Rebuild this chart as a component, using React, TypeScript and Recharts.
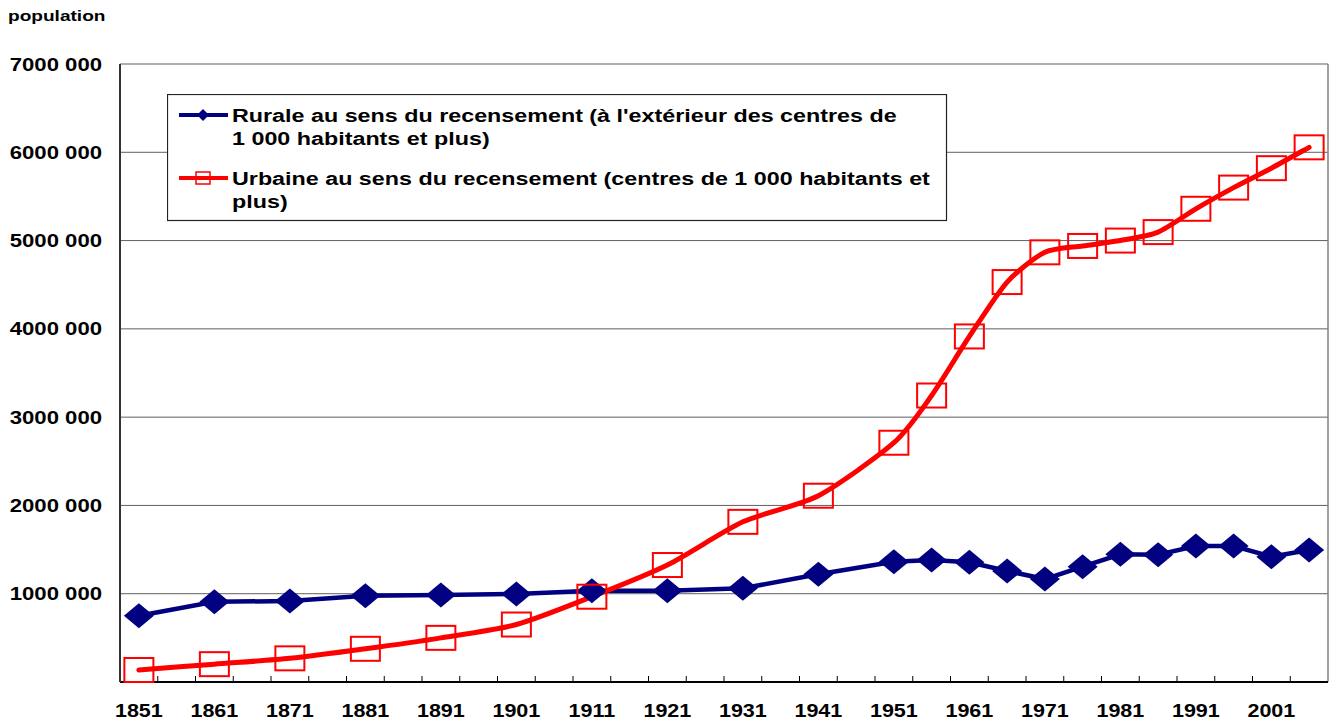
import React from 'react';
import { LineChart, Line, XAxis, YAxis, CartesianGrid, Legend, ReferenceLine } from 'recharts';

// census years (1951 onward every 5 years)
const YEARS = [1851, 1861, 1871, 1881, 1891, 1901, 1911, 1921, 1931, 1941, 1951, 1956, 1961, 1966, 1971, 1976, 1981, 1986, 1991, 1996, 2001, 2006];
const RURAL = [751000, 909000, 917000, 977000, 985000, 997000, 1034000, 1034000, 1061000, 1220000, 1362000, 1382000, 1356000, 1257000, 1166000, 1306000, 1446000, 1442000, 1540000, 1540000, 1419000, 1495000];
const URBAN = [136000, 202000, 268000, 376000, 500000, 651000, 966000, 1325000, 1814000, 2110000, 2710000, 3245000, 3914000, 4530000, 4867000, 4939000, 5000000, 5096000, 5360000, 5600000, 5820000, 6056000];
const LABEL_YEARS = [1851, 1861, 1871, 1881, 1891, 1901, 1911, 1921, 1931, 1941, 1951, 1961, 1971, 1981, 1991, 2001];
const Y_TICKS = [1000000, 2000000, 3000000, 4000000, 5000000, 6000000, 7000000];

const RURAL_NAME = ["Rurale au sens du recensement (à l'extérieur des centres de", '1 000 habitants et plus)'];
const URBAN_NAME = ['Urbaine au sens du recensement (centres de 1 000 habitants et', 'plus)'];

const NAVY = '#000080';
const RED = '#FF0000';
const FONT = '"Liberation Sans", Arial, sans-serif';
const STRETCH = 1.23;

const X_MIN = 1848.5;
const X_MAX = 2008.5;

const data = YEARS.map((year, i) => ({ year, rural: RURAL[i], urban: URBAN[i] }));

// category boundaries every 5 years get a small tick mark
const boundaries: number[] = [];
for (let b = X_MIN + 5; b < X_MAX; b += 5) boundaries.push(b);
const xTicks = [...LABEL_YEARS, ...boundaries].sort((a, b) => a - b);

const fmt = (v: number) => `${v / 1000} 000`;

// Excel-like smoothed line (catmull-rom style bezier)
const smoothCurve = (k: number) => (context: any) => {
  let pts: number[][] = [];
  return {
    areaStart() {},
    areaEnd() {},
    lineStart() {
      pts = [];
    },
    point(x: number, y: number) {
      pts.push([+x, +y]);
    },
    lineEnd() {
      if (!pts.length) return;
      context.moveTo(pts[0][0], pts[0][1]);
      for (let i = 0; i < pts.length - 1; i++) {
        const p0 = pts[i - 1] || pts[i];
        const p1 = pts[i];
        const p2 = pts[i + 1];
        const p3 = pts[i + 2] || p2;
        context.bezierCurveTo(
          p1[0] + (p2[0] - p0[0]) / k,
          p1[1] + (p2[1] - p0[1]) / k,
          p2[0] - (p3[0] - p1[0]) / k,
          p2[1] - (p3[1] - p1[1]) / k,
          p2[0],
          p2[1]
        );
      }
    },
  };
};

const XTick = (props: any) => {
  const { x, y, payload } = props;
  const v = payload.value;
  if (LABEL_YEARS.includes(v)) {
    return (
      <text
        transform={`translate(${x},${y + 35}) scale(${STRETCH},1)`}
        textAnchor="middle"
        fontFamily={FONT}
        fontWeight="bold"
        fontSize={17.5}
        fill="#000"
      >
        {v}
      </text>
    );
  }
  return <line x1={x} x2={x} y1={y} y2={y - 6} stroke="#000" strokeWidth={1} />;
};

const YTick = (props: any) => {
  const { x, y, payload } = props;
  return (
    <text
      transform={`translate(${x - 18},${y + 6.5}) scale(${STRETCH},1)`}
      textAnchor="end"
      fontFamily={FONT}
      fontWeight="bold"
      fontSize={18}
      fill="#000"
    >
      {fmt(payload.value)}
    </text>
  );
};

const Diamond = (props: any) => {
  const { cx, cy } = props;
  if (cx == null || cy == null) return null;
  return <polygon points={`${cx - 15},${cy} ${cx},${cy - 12.5} ${cx + 15},${cy} ${cx},${cy + 12.5}`} fill={NAVY} />;
};

const Square = (props: any) => {
  const { cx, cy } = props;
  if (cx == null || cy == null) return null;
  return <rect x={cx - 14.5} y={cy - 12} width={29} height={24} fill="none" stroke={RED} strokeWidth={2} />;
};

const legendText = (x: number, y: number, s: string) => (
  <text
    transform={`translate(${x},${y}) scale(1.26,1)`}
    fontFamily={FONT}
    fontWeight="bold"
    fontSize={18.5}
    fill="#000"
  >
    {s}
  </text>
);

const LegendBox = () => (
  <svg width={781} height={128} style={{ display: 'block' }}>
    <rect x={0.5} y={0.5} width={779} height={126} fill="#fff" stroke="#222" strokeWidth={1.2} />
    <line x1={12} x2={61} y1={21} y2={21} stroke={NAVY} strokeWidth={4} />
    <polygon points="30,21 36,15 42,21 36,27" fill={NAVY} />
    {legendText(65, 27.5, RURAL_NAME[0])}
    {legendText(65, 50.5, RURAL_NAME[1])}
    <line x1={12} x2={61} y1={84} y2={84} stroke={RED} strokeWidth={4} />
    <rect x={29} y={78} width={14} height={12} fill="none" stroke={RED} strokeWidth={1.5} />
    {legendText(65, 90.5, URBAN_NAME[0])}
    {legendText(65, 113.5, URBAN_NAME[1])}
  </svg>
);

export default function App() {
  return (
    <div style={{ position: 'absolute', left: 0, top: 0, width: 1333, height: 726, background: '#fff' }}>
      <div
        style={{
          position: 'absolute',
          left: 8,
          top: 7,
          fontFamily: FONT,
          fontWeight: 'bold',
          fontSize: 15.5,
          transform: `scaleX(${STRETCH})`,
          transformOrigin: 'left top',
          zIndex: 2,
        }}
      >
        population
      </div>
      <LineChart width={1333} height={726} data={data} margin={{ top: 64, right: 5, left: 0, bottom: 0 }}>
        <CartesianGrid vertical={false} stroke="#606060" strokeWidth={1} />
        <ReferenceLine x={X_MAX} stroke="#808080" strokeWidth={1.5} ifOverflow="extendDomain" />
        <XAxis
          dataKey="year"
          type="number"
          domain={[X_MIN, X_MAX]}
          ticks={xTicks}
          interval={0}
          tick={<XTick />}
          tickLine={false}
          tickSize={0}
          tickMargin={0}
          height={44}
          axisLine={{ stroke: '#000', strokeWidth: 2 }}
          allowDecimals
        />
        <YAxis
          type="number"
          domain={[0, 7000000]}
          ticks={Y_TICKS}
          interval={0}
          tick={<YTick />}
          tickLine={false}
          tickSize={0}
          tickMargin={0}
          width={120}
          axisLine={{ stroke: '#333', strokeWidth: 2 }}
        />
        <Legend
          layout="horizontal"
          verticalAlign="middle"
          align="center"
          content={() => <LegendBox />}
          wrapperStyle={{ position: 'absolute', left: 167, top: 94, width: 781, height: 128 }}
        />
        <Line
          type="linear"
          dataKey="rural"
          stroke={NAVY}
          strokeWidth={4.5}
          dot={<Diamond />}
          activeDot={false}
          isAnimationActive={false}
        />
        <Line
          type={smoothCurve(8) as any}
          dataKey="urban"
          stroke={RED}
          strokeWidth={5}
          strokeLinecap="round"
          dot={<Square />}
          activeDot={false}
          isAnimationActive={false}
        />
      </LineChart>
    </div>
  );
}
